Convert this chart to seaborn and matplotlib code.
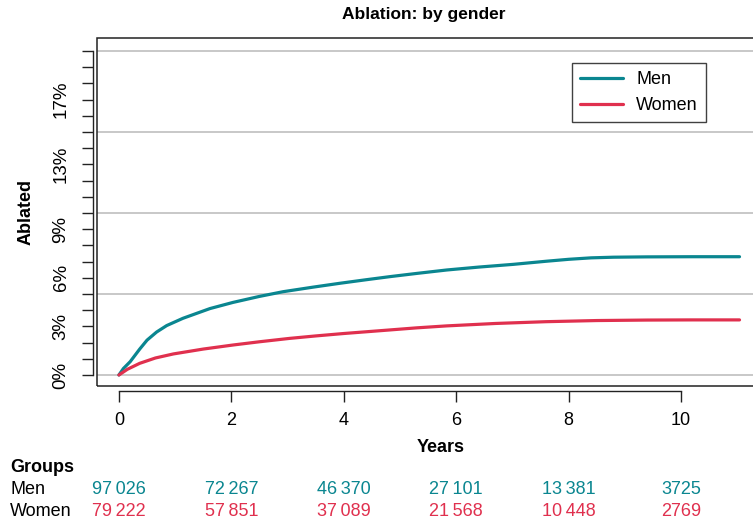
import numpy as np
import pandas as pd
import matplotlib
matplotlib.use("Agg")
import matplotlib.pyplot as plt
import matplotlib.transforms as mtransforms
from matplotlib.patches import Rectangle
from matplotlib.lines import Line2D
import seaborn as sns

# ---- data ----
men_years = [0, 0.08, 0.2, 0.37, 0.5, 0.67, 0.85, 1.14, 1.62, 2.03, 2.5, 2.92, 3.45, 3.93,
             4.4, 4.82, 5.3, 5.83, 6.4, 7.02, 7.6, 8.0, 8.4, 8.8, 9.39, 10.2, 11.04]
men_pct = [0, 0.4, 0.82, 1.6, 2.15, 2.65, 3.05, 3.5, 4.1, 4.48, 4.85, 5.14, 5.42, 5.66,
           5.88, 6.07, 6.27, 6.48, 6.66, 6.83, 7.02, 7.14, 7.23, 7.27, 7.29, 7.3, 7.3]
women_years = [0, 0.15, 0.37, 0.65, 0.97, 1.5, 2.03, 2.5, 3.04, 3.5, 4.0, 4.82, 5.3, 5.83,
               6.7, 7.6, 8.5, 9.39, 10.2, 11.04]
women_pct = [0, 0.35, 0.72, 1.05, 1.3, 1.6, 1.85, 2.05, 2.26, 2.41, 2.56, 2.78, 2.91, 3.03,
             3.18, 3.29, 3.36, 3.39, 3.4, 3.4]

groups = ["Men", "Women"]
risk_times = [0, 2, 4, 6, 8, 10]
men_at_risk = ["97\u2009026", "72\u2009267", "46\u2009370", "27\u2009101", "13\u2009381", "3725"]
women_at_risk = ["79\u2009222", "57\u2009851", "37\u2009089", "21\u2009568", "10\u2009448", "2769"]

y_ticks = list(range(0, 21))
y_labelled = [0, 3, 6, 9, 13, 17]
x_ticks = [0, 2, 4, 6, 8, 10]

colors = {"Men": "#0A8690", "Women": "#E0304E"}

df = pd.concat([
    pd.DataFrame({"Years": men_years, "Ablated": men_pct, "Group": "Men"}),
    pd.DataFrame({"Years": women_years, "Ablated": women_pct, "Group": "Women"}),
], ignore_index=True)

sns.set_theme(style="white")
plt.rcParams["font.family"] = ["Liberation Sans", "DejaVu Sans"]
plt.rcParams.update({"text.color": "black", "axes.labelcolor": "black",
                     "xtick.color": "black", "ytick.color": "black"})

W, H = 753, 526
fig = plt.figure(figsize=(W / 100, H / 100), dpi=100)
ax = fig.add_axes([97 / W, 1 - 386 / H, (762 - 97) / W, (386 - 38) / H])
ax.set_facecolor("white")

for g in [0, 5, 10, 15, 20]:
    ax.axhline(g, color="#C4C4C4", lw=1.3, zorder=0)

sns.lineplot(data=df, x="Years", y="Ablated", hue="Group", palette=colors,
             hue_order=groups, lw=2.3, ax=ax, legend=False, estimator=None, sort=True)

ax.set_xlim(-0.39, 11.44)
ax.set_ylim(-0.68, 20.8)

# box
ax.add_patch(Rectangle((0, 0), 1, 1, transform=ax.transAxes, fill=False,
                       edgecolor="#222222", lw=1.1, clip_on=False, zorder=5))
for s in ["top", "right"]:
    ax.spines[s].set_visible(False)
ax.spines["left"].set_position(("outward", 2.9))
ax.spines["left"].set_bounds(0, 20)
ax.spines["bottom"].set_position(("outward", 3.6))
ax.spines["bottom"].set_bounds(0, 10)
for s in ["left", "bottom"]:
    ax.spines[s].set_color("#222222")
    ax.spines[s].set_linewidth(1.0)

ax.set_yticks(y_ticks)
ax.set_yticklabels([f"{v}%" if v in y_labelled else "" for v in y_ticks],
                   rotation=90, va="center")
ax.set_xticks(x_ticks)
ax.set_xticklabels([str(v) for v in x_ticks])
ax.tick_params(axis="y", length=7.9, width=1.0, color="#222222", pad=9.0,
               labelsize=13.5, left=True)
ax.tick_params(axis="x", length=7.9, width=1.0, color="#222222", pad=7,
               labelsize=13, bottom=True)

ax.set_xlabel("Years", fontsize=13, fontweight="bold")
ax.xaxis.set_label_coords((441 - 97) / 665, (386 - 439) / 348)
ax.set_ylabel("Ablated", fontsize=13, fontweight="bold")
ax.yaxis.set_label_coords((35 - 97) / 665, 0.5)

fig.text(424 / W, 1 - 14 / H, "Ablation: by gender", fontsize=12.5,
         fontweight="bold", ha="center", va="center")

handles = [Line2D([], [], color=colors[g], lw=2.3) for g in groups]
leg = ax.legend(handles, groups, loc="upper left",
                bbox_to_anchor=(572 / W, 1 - 63 / H), bbox_transform=fig.transFigure,
                frameon=True, fancybox=False, fontsize=13, handlelength=2.4,
                handletextpad=0.7, labelspacing=0.5, borderpad=0.45, borderaxespad=0)
leg.get_frame().set_edgecolor("#111111")
leg.get_frame().set_linewidth(1.0)

# risk table
tr = mtransforms.blended_transform_factory(ax.transData, fig.transFigure)
fig.text(10 / W, 1 - 467 / H, "Groups", fontsize=13, fontweight="bold", va="center", ha="left")
fig.text(10 / W, 1 - 490 / H, "Men", fontsize=13, va="center", ha="left")
fig.text(10 / W, 1 - 512 / H, "Women", fontsize=13, va="center", ha="left")
for t, m, w in zip(risk_times, men_at_risk, women_at_risk):
    fig.text(t, 1 - 490 / H, m, transform=tr, fontsize=13, color=colors["Men"],
             ha="center", va="center")
    fig.text(t, 1 - 512 / H, w, transform=tr, fontsize=13, color=colors["Women"],
             ha="center", va="center")

fig.savefig("out.png", dpi=100)
